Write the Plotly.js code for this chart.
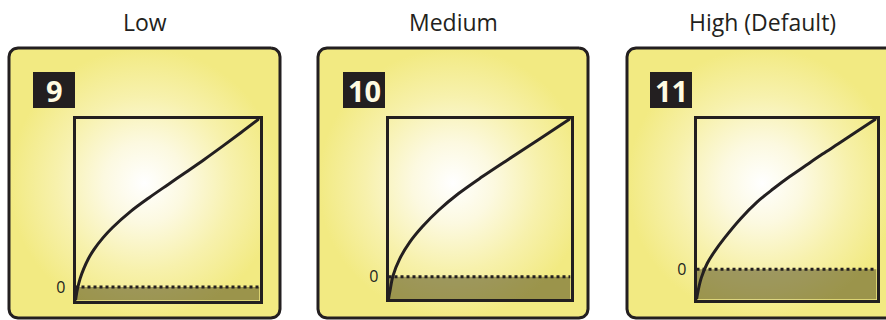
<!DOCTYPE html>
<html><head><meta charset="utf-8">
<script src="https://cdn.plot.ly/plotly-3.0.1.min.js"></script>
<style>html,body{margin:0;padding:0;background:#fff;}#chart{width:886px;height:320px;}</style>
</head><body><div id="chart"></div>
<script>
// ---- data ----
const levelNames = ['Low', 'Medium', 'High (Default)'];
const levelNumbers = ['9', '10', '11'];
const blackLevel = [0.08, 0.14, 0.20];          // depth of shaded band below 0
const bandX = [0, 1];
const zeroTickText = ['0'];

const curveX1 = [0, 0.01, 0.025, 0.045, 0.07, 0.1, 0.15, 0.2, 0.3, 0.4, 0.5, 0.6, 0.7, 0.8, 0.9, 1];
const curveY1 = [-0.08, -0.015, 0.05, 0.109, 0.168, 0.222, 0.293, 0.352, 0.449, 0.53, 0.606, 0.681, 0.757, 0.836, 0.917, 1];
const curveX2 = [0, 0.007, 0.025, 0.061, 0.115, 0.188, 0.277, 0.385, 0.512, 0.656, 0.83, 1];
const curveY2 = [-0.14, -0.096, 0.008, 0.112, 0.216, 0.319, 0.422, 0.526, 0.63, 0.74, 0.87, 1];
const curveX3 = [0, 0.009, 0.027, 0.06, 0.1, 0.155, 0.245, 0.336, 0.427, 0.518, 0.609, 0.7, 0.79, 0.88, 1];
const curveY3 = [-0.2, -0.141, -0.055, 0.04, 0.118, 0.207, 0.336, 0.446, 0.534, 0.615, 0.69, 0.764, 0.834, 0.905, 1];
const curvesX = [curveX1, curveX2, curveX3];
const curvesY = [curveY1, curveY2, curveY3];

// ---- layout geometry (pixels) ----
const W = 886, H = 320;
const INK = '#231f20';
const FONT = 'Open Sans, Noto Sans, sans-serif';
const cards = [[9, 280], [318, 588], [627, 897]];
const cardTop = 48, cardBottom = 318, cardR = 9;
const boxes = [[75.5, 259.5, 118.5, 300.5], [388.5, 570.5, 118.5, 299], [696.5, 876.5, 118.5, 299.5]];
const tags = [[33, 75], [343, 385], [650, 692]];
const tagTop = 72, tagBottom = 108;
const titleY = 22;

function roundRect(x0, x1, y0, y1, r) {
  const xs = [], ys = [];
  const corners = [[x1 - r, y0 + r, -90], [x1 - r, y1 - r, 0], [x0 + r, y1 - r, 90], [x0 + r, y0 + r, 180]];
  corners.forEach(([cx, cy, a0]) => {
    for (let k = 0; k <= 8; k++) {
      const a = (a0 + k * 90 / 8) * Math.PI / 180;
      xs.push(cx + r * Math.cos(a)); ys.push(cy + r * Math.sin(a));
    }
  });
  xs.push(xs[0]); ys.push(ys[0]);
  return [xs, ys];
}

const traces = [];
const layout = {
  width: W, height: H,
  margin: {l: 0, r: 0, t: 0, b: 0},
  paper_bgcolor: '#ffffff', plot_bgcolor: 'rgba(0,0,0,0)',
  showlegend: false,
  xaxis: {domain: [0, 1], range: [0, W], visible: false, fixedrange: true},
  yaxis: {domain: [0, 1], range: [H, 0], visible: false, fixedrange: true},
  shapes: [], annotations: []
};

// cards (background)
cards.forEach(([x0, x1]) => {
  const [xs, ys] = roundRect(x0, x1, cardTop, cardBottom, cardR);
  traces.push({
    x: xs, y: ys, xaxis: 'x', yaxis: 'y', mode: 'lines', fill: 'toself',
    line: {color: INK, width: 3},
    fillgradient: {type: 'radial', colorscale: [[0, '#ffffff'], [0.3, '#fcf9e0'], [0.65, '#f7f1ac'], [1, '#f2ea82']]},
    hoverinfo: 'skip'
  });
});

for (let i = 0; i < 3; i++) {
  const n = i + 2;
  const xa = 'x' + n, ya = 'y' + n;
  const [bx0, bx1, by0, by1] = boxes[i];
  layout['xaxis' + n] = {
    domain: [bx0 / W, bx1 / W], range: [0, 1], anchor: ya,
    showgrid: false, zeroline: false, showticklabels: false, ticks: '',
    showline: true, mirror: true, linecolor: INK, linewidth: 3, fixedrange: true
  };
  layout['yaxis' + n] = {
    domain: [1 - by1 / H, 1 - by0 / H], range: [-blackLevel[i], 1], anchor: xa,
    showgrid: false, zeroline: false, ticks: '', ticklabelstandoff: 4,
    tickmode: 'array', tickvals: [0], ticktext: zeroTickText,
    tickfont: {family: FONT, size: 16, color: INK},
    showline: true, mirror: true, linecolor: INK, linewidth: 3, fixedrange: true
  };
  // shaded band below zero
  traces.push({
    x: bandX, y: bandX.map(() => -blackLevel[i]), xaxis: xa, yaxis: ya,
    mode: 'lines', fill: 'tozeroy', line: {width: 0}, fillcolor: 'rgba(60,55,15,0.48)', hoverinfo: 'skip'
  });
  // dotted zero line
  traces.push({
    x: bandX, y: bandX.map(() => 0), xaxis: xa, yaxis: ya,
    mode: 'lines', line: {color: INK, width: 3, dash: 'dot'}, hoverinfo: 'skip'
  });
  // curve
  traces.push({
    x: curvesX[i], y: curvesY[i], xaxis: xa, yaxis: ya, mode: 'lines',
    line: {color: INK, width: 3, shape: 'spline', smoothing: 1}, cliponaxis: false, hoverinfo: 'skip'
  });
  // tag box
  const [tx0, tx1] = tags[i];
  layout.shapes.push({
    type: 'rect', xref: 'paper', yref: 'paper', layer: 'above',
    x0: tx0 / W, x1: tx1 / W, y0: 1 - tagBottom / H, y1: 1 - tagTop / H,
    fillcolor: INK, line: {width: 0}
  });
  layout.annotations.push({
    xref: 'paper', yref: 'paper', x: (tx0 + tx1) / 2 / W, y: 1 - (tagTop + tagBottom) / 2 / H,
    text: levelNumbers[i], showarrow: false, xanchor: 'center', yanchor: 'middle',
    font: {family: FONT, size: 29, color: '#fffbe3', weight: 'bold'}
  });
  // title
  const [cx0, cx1] = cards[i];
  layout.annotations.push({
    xref: 'paper', yref: 'paper', x: (cx0 + cx1) / 2 / W, y: 1 - titleY / H,
    text: levelNames[i], showarrow: false, xanchor: 'center', yanchor: 'middle',
    font: {family: FONT, size: 23, color: INK}
  });
}

Plotly.newPlot('chart', traces, layout, {displayModeBar: false, staticPlot: true});
</script>
</body></html>
